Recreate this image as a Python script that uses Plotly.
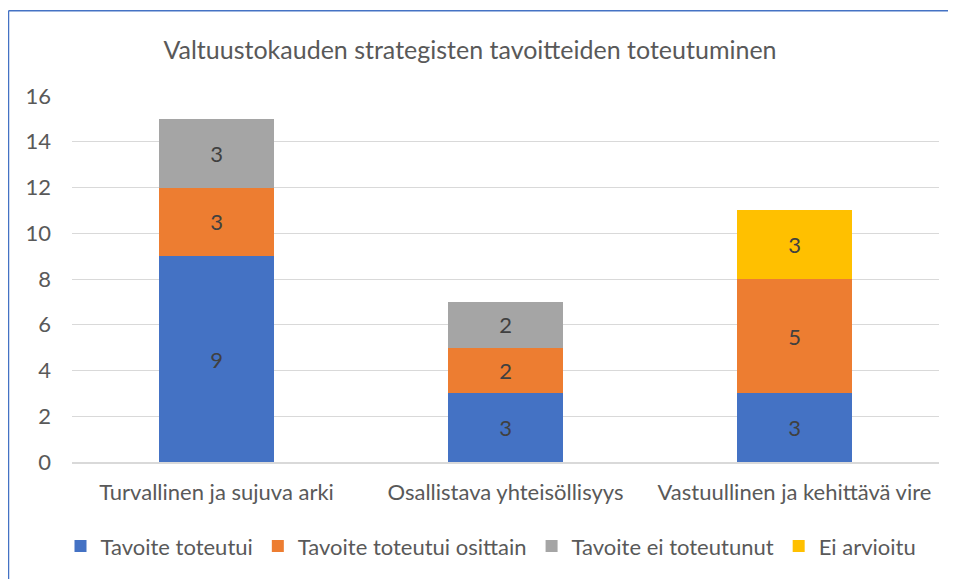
import plotly.graph_objects as go

categories = ["Turvallinen ja sujuva arki", "Osallistava yhteisöllisyys", "Vastuullinen ja kehittävä vire"]
series_names = ["Tavoite toteutui", "Tavoite toteutui osittain", "Tavoite ei toteutunut", "Ei arvioitu"]
toteutui = [9, 3, 3]
osittain = [3, 2, 5]
ei_toteutunut = [3, 2, 0]
ei_arvioitu = [0, 0, 3]
colors = ["#4472C4", "#ED7D31", "#A5A5A5", "#FFC000"]
y_ticks = [0, 2, 4, 6, 8, 10, 12, 14, 16]

# page body has an 8px margin, so the figure starts at (8, 8) on screen
OFF = 8
W, H = 956 - OFF, 579 - OFF
ml, mr, mt, mb = 72 - OFF, 17, 96 - OFF, 114
font = "Lato, 'Open Sans', sans-serif"
fs = 22

fig = go.Figure()
for name, vals, col in zip(series_names, [toteutui, osittain, ei_toteutunut, ei_arvioitu], colors):
    fig.add_trace(go.Bar(
        x=categories, y=vals, name=name, marker=dict(color=col, line=dict(width=0)),
        text=[str(v) if v else "" for v in vals], textposition="inside",
        insidetextanchor="middle", textfont=dict(size=fs, color="#404040", family=font),
        hoverinfo="skip",
    ))

pw, ph = W - ml - mr, H - mt - mb
x_left = (0.5 - ml) / pw
y_top = (H - mb - 2) / ph
fig.add_shape(type="line", xref="paper", yref="paper", x0=x_left, x1=(W + 5 - ml) / pw,
              y0=y_top, y1=y_top, line=dict(color="#4472C4", width=1.5))
fig.add_shape(type="line", xref="paper", yref="paper", x0=x_left, x1=x_left,
              y0=y_top, y1=-(mb + 5) / ph, line=dict(color="#4472C4", width=1.5))

fig.update_layout(
    width=W, height=H, barmode="stack", bargap=0.6,
    margin=dict(l=ml, r=mr, t=mt, b=mb),
    paper_bgcolor="white", plot_bgcolor="white",
    font=dict(family=font, color="#595959", size=fs),
    title=dict(text="Valtuustokauden strategisten tavoitteiden toteutuminen",
               x=(470 - OFF) / W, xanchor="center", y=1 - (50 - OFF) / H, yanchor="middle",
               font=dict(size=25, color="#595959", family=font)),
    xaxis=dict(range=[-0.5, 2.5], showgrid=False, showline=True, linecolor="#D9D9D9",
               linewidth=1.5, ticks="", ticklabelstandoff=10,
               tickfont=dict(size=fs, color="#595959")),
    yaxis=dict(range=[0, 16], tickvals=y_ticks, showgrid=True, gridcolor="#D9D9D9",
               gridwidth=1.2, zeroline=False, ticks="", ticklabelstandoff=20,
               tickfont=dict(size=fs, color="#595959")),
    legend=dict(orientation="h", x=(491 - OFF - ml) / pw, xanchor="center",
                y=-(548 - 463) / ph, yanchor="middle",
                font=dict(size=fs, color="#595959"),
                itemsizing="constant", traceorder="normal"),
    showlegend=True,
)
fig.write_html("out.html")
